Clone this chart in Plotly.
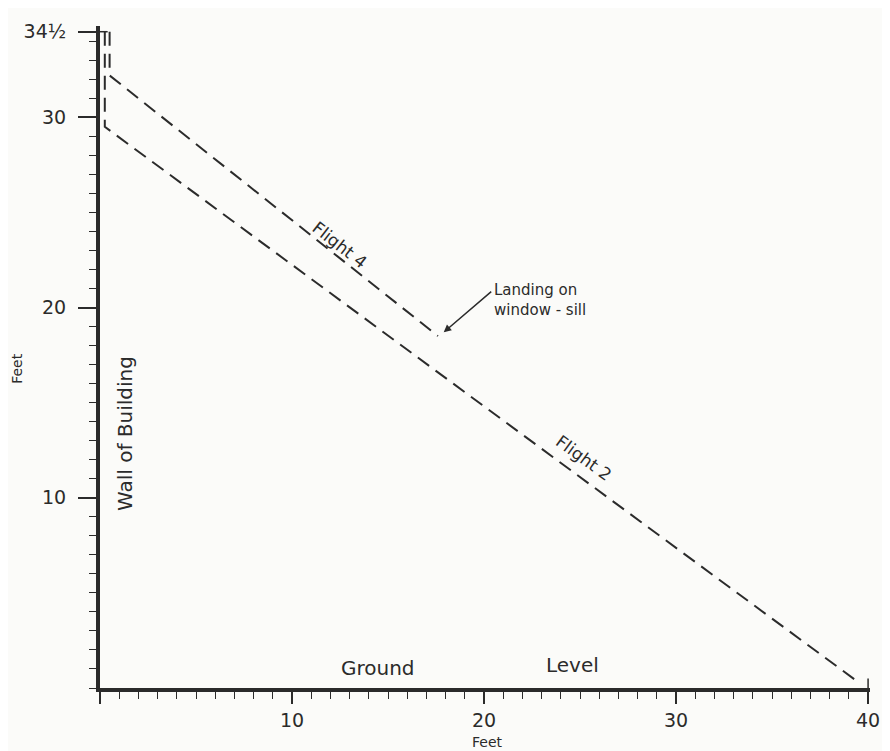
import plotly.graph_objects as go

# Data (feet)
flight2_x = [0.25, 0.25, 39.5]
flight2_y = [34.5, 29.5, 0.3]
flight4_x = [0.5, 0.5, 17.6]
flight4_y = [34.5, 32.2, 18.5]

x_tickvals = [0, 10, 20, 30, 40]
x_ticktext = ["", "10", "20", "30", "40"]
y_tickvals = [10, 20, 30, 34.5]
y_ticktext = ["10", "20", "30", "34½"]

ink = "#2b2b2b"
font_family = "DejaVu Sans, sans-serif"

fig = go.Figure()
dash = "14px,8px"
fig.add_trace(go.Scatter(x=flight2_x, y=flight2_y, mode="lines",
                         line=dict(color=ink, width=2, dash=dash), cliponaxis=False,
                         showlegend=False, hoverinfo="skip"))
fig.add_trace(go.Scatter(x=flight4_x, y=flight4_y, mode="lines",
                         line=dict(color=ink, width=2, dash=dash), cliponaxis=False,
                         showlegend=False, hoverinfo="skip"))

tickfont = dict(family=font_family, size=19, color=ink)
fig.update_xaxes(range=[0, 40.1], showline=True, linewidth=4, linecolor=ink,
                 showgrid=False, zeroline=False,
                 tickmode="array", tickvals=x_tickvals, ticktext=x_ticktext,
                 ticks="outside", ticklen=12, tickwidth=1.5, tickcolor=ink,
                 minor=dict(dtick=1, ticks="outside", ticklen=7, tickwidth=1.2, tickcolor=ink),
                 tickfont=tickfont, fixedrange=True)
fig.update_yaxes(range=[0, 34.8], showline=True, linewidth=4, linecolor=ink,
                 showgrid=False, zeroline=False,
                 tickmode="array", tickvals=y_tickvals, ticktext=y_ticktext,
                 ticks="outside", ticklen=18, tickwidth=1.5, tickcolor=ink,
                 minor=dict(dtick=1, ticks="outside", ticklen=7, tickwidth=1.2, tickcolor=ink),
                 ticklabelstandoff=8,
                 tickfont=tickfont, fixedrange=True)

# small end serifs
fig.add_shape(type="line", x0=40, x1=40, y0=0, y1=0.5, line=dict(color=ink, width=1.5))
fig.add_shape(type="line", x0=0, x1=0.4, y0=34.5, y1=34.5, line=dict(color=ink, width=1.5))

lab = dict(family=font_family, size=17, color=ink)
big = dict(family=font_family, size=20, color=ink)
fig.add_annotation(x=12.5, y=23.3, text="Flight 4", showarrow=False, textangle=38, font=lab)
fig.add_annotation(x=25.2, y=12.1, text="Flight 2", showarrow=False, textangle=36, font=lab)
fig.add_annotation(x=1.3, y=13.4, text="Wall of Building", showarrow=False, textangle=-90, font=big)
fig.add_annotation(x=14.5, y=1.05, text="Ground", showarrow=False, font=big)
fig.add_annotation(x=24.6, y=1.2, text="Level", showarrow=False, font=big)
fig.add_annotation(x=20.4, y=20.4, text="Landing on<br>window - sill", showarrow=False,
                   xanchor="left", yanchor="middle", align="left",
                   font=dict(family=font_family, size=15, color=ink))
fig.add_annotation(x=17.9, y=18.7, text="", showarrow=True, ax=49, ay=-42,
                   arrowhead=2, arrowsize=1, arrowwidth=1.5, arrowcolor=ink)

fig.add_annotation(xref="paper", yref="paper", x=-0.12, y=0.483, text="Feet", showarrow=False,
                   textangle=-90, font=dict(family=font_family, size=14, color=ink))
fig.add_annotation(xref="paper", yref="paper", x=0.503, y=-0.097, text="Feet", showarrow=False,
                   font=dict(family=font_family, size=14, color=ink))

fig.update_layout(width=890, height=751, margin=dict(l=92, r=28, t=12, b=71),
                  paper_bgcolor="#fbfbf9", plot_bgcolor="#fbfbf9")

fig.write_html("out.html")
